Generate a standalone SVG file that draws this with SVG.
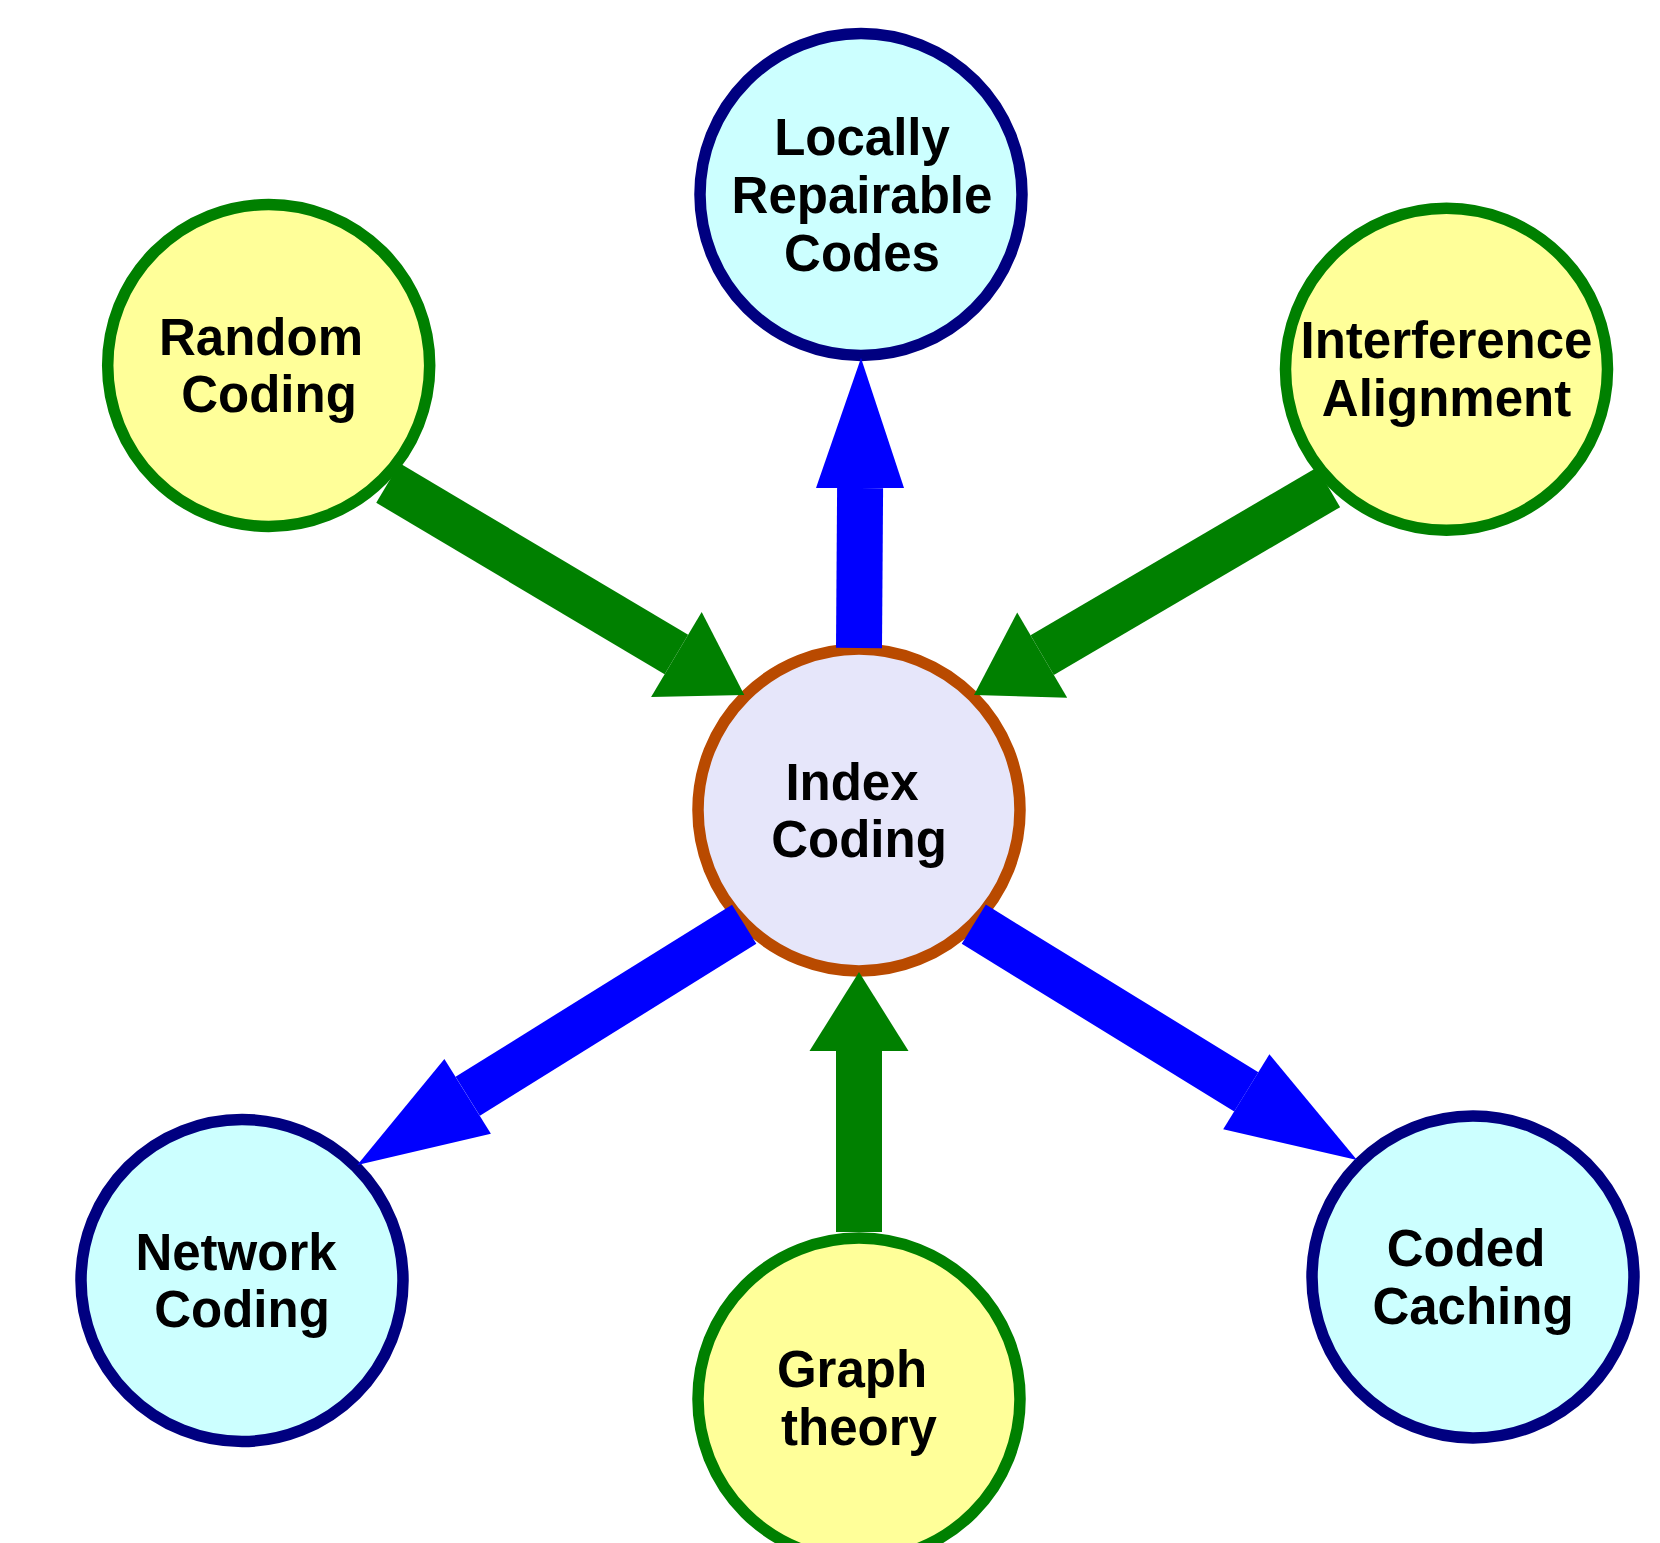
<svg xmlns="http://www.w3.org/2000/svg" width="1660" height="1543" viewBox="0 0 1660 1543">
  <style>
    .node circle { stroke-width: 11.5; }
    .hub circle { fill: #e6e6fa; stroke: #b94a00; }
    .src circle { fill: #ffff99; stroke: #008000; }
    .dst circle { fill: #ccffff; stroke: #000080; }
    .node text { font-family: "Liberation Sans", Arial, sans-serif; font-weight: bold; font-size: 51px; fill: #000; text-anchor: middle; }
    .edge line { stroke-width: 46; stroke-linecap: butt; }
    .in line { stroke: #008000; }
    .in polygon { fill: #008000; }
    .out line { stroke: #0000ff; }
    .out polygon { fill: #0000ff; }
  </style>
  <rect width="1660" height="1543" fill="#ffffff"/>

  <g id="nodes">
    <g id="index-coding" class="node hub">
      <circle cx="859" cy="810" r="161"/>
      <text x="852" y="800">Index</text>
      <text x="859" y="857">Coding</text>
    </g>
    <g id="locally-repairable-codes" class="node dst">
      <circle cx="861" cy="194.5" r="161"/>
      <text x="862" y="155">Locally</text>
      <text x="862" y="213">Repairable</text>
      <text x="862" y="271">Codes</text>
    </g>
    <g id="random-coding" class="node src">
      <circle cx="268.7" cy="365.5" r="161"/>
      <text x="261" y="355">Random</text>
      <text x="269" y="412">Coding</text>
    </g>
    <g id="interference-alignment" class="node src">
      <circle cx="1446.5" cy="369.3" r="161"/>
      <text x="1446.5" y="357.5">Interference</text>
      <text x="1446.5" y="415.5">Alignment</text>
    </g>
    <g id="network-coding" class="node dst">
      <circle cx="242" cy="1280.5" r="161"/>
      <text x="236" y="1270">Network</text>
      <text x="242" y="1327">Coding</text>
    </g>
    <g id="graph-theory" class="node src">
      <circle cx="859" cy="1399" r="161"/>
      <text x="852" y="1387">Graph</text>
      <text x="859" y="1445">theory</text>
    </g>
    <g id="coded-caching" class="node dst">
      <circle cx="1473" cy="1277" r="161"/>
      <text x="1466" y="1266">Coded</text>
      <text x="1473" y="1323.5">Caching</text>
    </g>
  </g>

  <g id="connectors">
    <!-- Random Coding -> Index Coding -->
    <g class="edge in">
      <line x1="388" y1="483" x2="676.4" y2="654.6"/>
      <polygon points="701.7,612.1 744.3,695 651.1,697.1"/>
    </g>
    <!-- Interference Alignment -> Index Coding -->
    <g class="edge in">
      <line x1="1328.5" y1="487.3" x2="1042.2" y2="655.1"/>
      <polygon points="1017.2,612.4 974,695 1067.2,697.8"/>
    </g>
    <!-- Graph theory -> Index Coding -->
    <g class="edge in">
      <line x1="859" y1="1232" x2="859" y2="1051"/>
      <polygon points="809.5,1051 859,972 908.5,1051"/>
    </g>
    <!-- Index Coding -> Locally Repairable Codes -->
    <g class="edge out">
      <line x1="859" y1="648" x2="860.1" y2="488"/>
      <polygon points="816,488 861,358 904,488"/>
    </g>
    <!-- Index Coding -> Network Coding -->
    <g class="edge out">
      <line x1="744.2" y1="924.2" x2="467.7" y2="1096.3"/>
      <polygon points="490.9,1133.7 357.3,1165 444.4,1058.9"/>
    </g>
    <!-- Index Coding -> Coded Caching -->
    <g class="edge out">
      <line x1="973.8" y1="924.2" x2="1246.3" y2="1091.8"/>
      <polygon points="1223.2,1129.3 1357,1160 1269.4,1054.3"/>
    </g>
  </g>
</svg>
